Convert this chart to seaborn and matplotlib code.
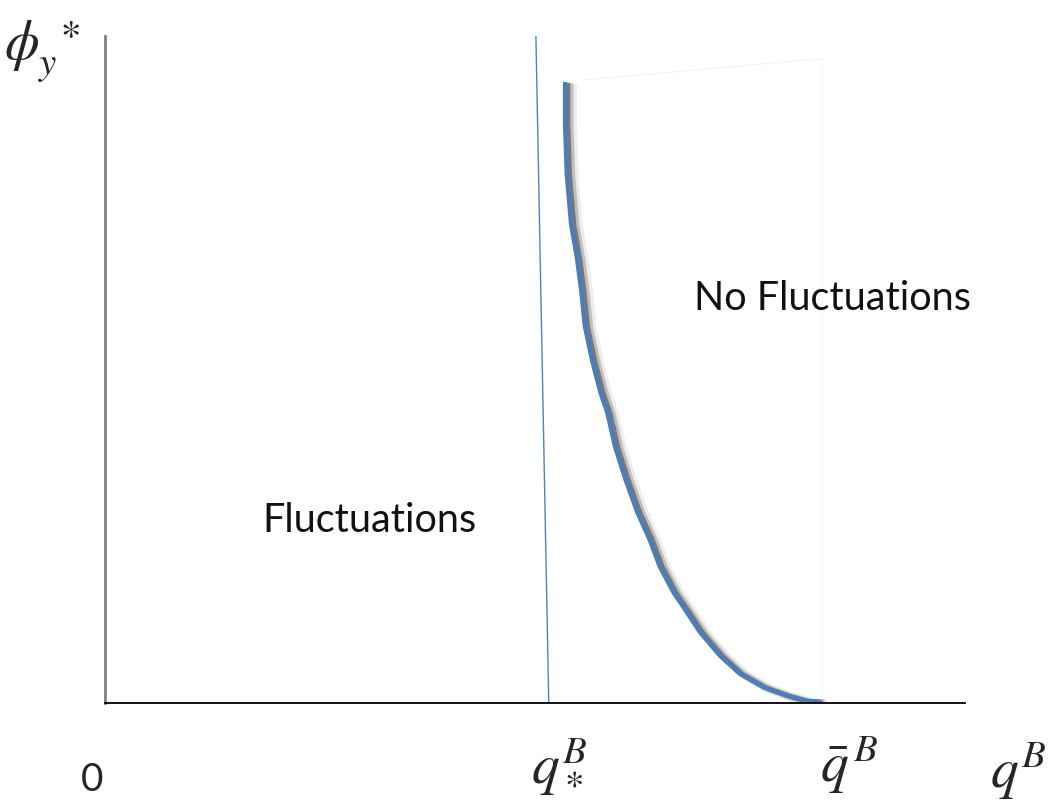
import numpy as np
import pandas as pd
import seaborn as sns
import matplotlib
matplotlib.use("Agg")
from matplotlib import pyplot as plt
import matplotlib.patheffects as pe

# %% data (axis units: 0..10 on both axes)
curve_q = [5.35, 5.35, 5.37, 5.42, 5.49, 5.54, 5.58, 5.66, 5.76, 5.84, 5.93, 6.05,
           6.19, 6.33, 6.45, 6.61, 6.72, 6.92, 7.15, 7.38, 7.65, 7.93, 8.16, 8.31]
curve_phi = [9.31, 8.68, 7.93, 7.18, 6.66, 6.16, 5.65, 5.16, 4.66, 4.36, 3.85, 3.36,
             2.86, 2.46, 2.05, 1.66, 1.45, 1.06, 0.71, 0.44, 0.24, 0.11, 0.03, 0.02]

threshold_q = [5.01, 5.16]
threshold_phi = [10.03, 0.0]

q_star = 5.16
q_bar = 8.31

# faint box edges around the "No Fluctuations" region
box_top_q = [5.56, 8.34]
box_top_phi = [9.34, 9.66]
box_side_q = [8.34, 8.34]
box_side_phi = [9.66, 0.06]

region_labels = ["Fluctuations", "No Fluctuations"]
region_q = [1.83, 6.85]
region_phi = [2.75, 6.08]

# %%
sns.set_theme(style="white")
plt.rcParams["font.family"] = ["Lato", "DejaVu Sans"]
plt.rcParams["mathtext.fontset"] = "stix"

W, H = 1049, 803
fig = plt.figure(figsize=(W / 100, H / 100), dpi=100)
ax = fig.add_axes([105 / W, (H - 704) / H, (965 - 105) / W, (704 - 37) / H])
ax.set_xlim(0, 10)
ax.set_ylim(0, 10)

curve = pd.DataFrame({"q": curve_q, "phi": curve_phi})
thresh = pd.DataFrame({"q": threshold_q, "phi": threshold_phi})

sns.lineplot(x=box_top_q, y=box_top_phi, color="#f5f5f5", linewidth=1, ax=ax)
sns.lineplot(x=box_side_q, y=box_side_phi, color="#f5f5f5", linewidth=1,
             sort=False, estimator=None, ax=ax)
sns.lineplot(data=thresh, x="q", y="phi", color="#4f81bd", linewidth=1,
             sort=False, estimator=None, ax=ax)
sns.lineplot(
    data=curve, x="q", y="phi", color="#4a7ebb", linewidth=3.2, ax=ax,
    sort=False, estimator=None,
    solid_joinstyle="round", solid_capstyle="butt",
    path_effects=[
        pe.SimpleLineShadow(offset=(5, -1.5), shadow_color="#888888", alpha=0.15, linewidth=7),
        pe.SimpleLineShadow(offset=(3.5, -1), shadow_color="#555555", alpha=0.3, linewidth=5),
        pe.SimpleLineShadow(offset=(2, -0.5), shadow_color="#333333", alpha=0.5, linewidth=3.5),
        pe.Normal(),
    ],
)

for lab, xq, yp in zip(region_labels, region_q, region_phi):
    ax.text(xq, yp, lab, fontsize=28.5, color="#111111", ha="left", va="center")

# axis labels as in the figure
ax.text(-0.15, -1.14, "0", fontsize=28, ha="center", va="center", clip_on=False)
ax.text(q_star + 0.12, -0.92, r"$q_*^B$", fontsize=40, ha="center", va="center", clip_on=False)
ax.text(q_bar + 0.34, -0.92, r"$\bar{q}^{\,B}$", fontsize=40, ha="center", va="center", clip_on=False)
ax.text(10.62, -1.0, r"$q^B$", fontsize=40, ha="center", va="center", clip_on=False)
ax.text(-0.73, 9.78, r"$\phi_y^{\ \ast}$", fontsize=40, ha="center", va="center", clip_on=False)

ax.set_xticks([])
ax.set_yticks([])
ax.set_xlabel("")
ax.set_ylabel("")
sns.despine(ax=ax, top=True, right=True)
ax.spines["left"].set_color("#808080")
ax.spines["left"].set_linewidth(2)
ax.spines["bottom"].set_color("black")
ax.spines["bottom"].set_linewidth(1.3)

fig.savefig("out.png", dpi=100)
